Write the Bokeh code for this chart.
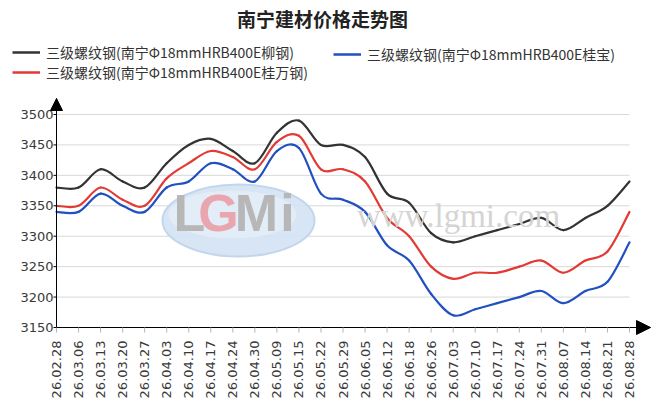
import numpy as np
from bokeh.plotting import figure
from bokeh.models import (Range1d, FixedTicker, Legend, LegendItem, Label,
                          Arrow, NormalHead, ColumnDataSource)
from bokeh.embed import file_html
from bokeh.resources import INLINE

dates = ["26.02.28", "26.03.06", "26.03.13", "26.03.20", "26.03.27", "26.04.03",
         "26.04.10", "26.04.17", "26.04.24", "26.04.30", "26.05.09", "26.05.15",
         "26.05.22", "26.05.29", "26.06.05", "26.06.12", "26.06.18", "26.06.26",
         "26.07.03", "26.07.10", "26.07.17", "26.07.24", "26.07.31", "26.08.07",
         "26.08.14", "26.08.21", "26.08.28"]
liugang = [3380, 3380, 3410, 3390, 3380, 3420, 3450, 3460, 3440, 3420, 3470, 3490,
           3450, 3450, 3430, 3370, 3355, 3305, 3290, 3300, 3310, 3320, 3330, 3310,
           3330, 3350, 3390]
guiwan = [3350, 3350, 3380, 3360, 3350, 3395, 3420, 3440, 3430, 3410, 3455, 3465,
          3410, 3410, 3390, 3330, 3300, 3250, 3230, 3240, 3240, 3250, 3260, 3240,
          3260, 3275, 3340]
guibao = [3340, 3340, 3370, 3350, 3340, 3380, 3390, 3420, 3410, 3390, 3440, 3445,
          3370, 3360, 3340, 3285, 3260, 3205, 3170, 3180, 3190, 3200, 3210, 3190,
          3210, 3225, 3290]
yticks = [3150, 3200, 3250, 3300, 3350, 3400, 3450, 3500]
title_text = "南宁建材价格走势图"
names = ["三级螺纹钢(南宁Φ18mmHRB400E柳钢)",
         "三级螺纹钢(南宁Φ18mmHRB400E桂宝)",
         "三级螺纹钢(南宁Φ18mmHRB400E桂万钢)"]
colors = ["#333333", "#2150bf", "#e23b36"]

n = len(dates)
W, H = 658, 410
# page-pixel layout of the plot area
PX0, PX_LAST = 56.0, 629.0          # first / last category tick
PY_BASE, PY_TOP = 327.0, 114.0      # y of first / last y tick
FRAME_L, FRAME_R = 0, 652
FRAME_T, FRAME_B = 0, 336
dx = (PX_LAST - PX0) / (n - 1)
dy = (PY_BASE - PY_TOP) / (yticks[-1] - yticks[0])


def data_x(px):
    return (px - PX0) / dx


def data_y(py):
    return yticks[0] + (PY_BASE - py) / dy


p = figure(width=W, height=H, output_backend="svg", toolbar_location=None,
           x_range=Range1d(data_x(FRAME_L), data_x(FRAME_R)),
           y_range=Range1d(data_y(FRAME_B), data_y(FRAME_T)),
           min_border_left=FRAME_L, min_border_right=W - FRAME_R,
           min_border_top=FRAME_T, min_border_bottom=H - FRAME_B)
p.title_location = None
p.outline_line_color = None
p.xgrid.visible = False
p.ygrid.visible = False

# grid lines
p.segment(x0=0, x1=n - 1, y0=yticks[1:], y1=yticks[1:], line_color="#d9d9d9",
          line_width=1)

# watermark
p.ellipse(x=[data_x(238)], y=[data_y(220)], width=[152], height=[72],
          width_units="screen", height_units="screen", fill_color="#d3e2f3",
          line_color="#c2d6ec", line_width=2, fill_alpha=0.9)
p.ellipse(x=[data_x(232)], y=[data_y(214)], width=[128], height=[48],
          width_units="screen", height_units="screen", fill_color="#e6eff9",
          line_color=None, fill_alpha=0.8)
for ch, px, col in [("L", 189, "#b4b4b4"), ("G", 218, "#e9a2aa"),
                    ("M", 256, "#b4b4b4"), ("i", 287, "#b4b4b4")]:
    p.add_layout(Label(x=data_x(px), y=data_y(241), text=ch,
                       text_font="Liberation Sans", text_font_style="bold",
                       text_font_size="52px", text_color=col, text_align="center",
                       text_alpha=0.95))
p.add_layout(Label(x=data_x(458), y=data_y(233), text="www.lgmi.com",
                   text_font="Liberation Serif", text_font_size="33px",
                   text_color="#d4d4d4", text_align="center"))


def bez(vals):
    y = np.array(vals, dtype=float)
    x = np.arange(len(y), dtype=float)
    m = len(y)
    xp = np.concatenate([[x[0]], x, [x[-1]]])
    yp = np.concatenate([[y[0]], y, [y[-1]]])
    return dict(
        x0=xp[1:m], y0=yp[1:m], x1=xp[2:m + 1], y1=yp[2:m + 1],
        cx0=xp[1:m] + (xp[2:m + 1] - xp[0:m - 1]) / 6,
        cy0=yp[1:m] + (yp[2:m + 1] - yp[0:m - 1]) / 6,
        cx1=xp[2:m + 1] - (xp[3:m + 2] - xp[1:m]) / 6,
        cy1=yp[2:m + 1] - (yp[3:m + 2] - yp[1:m]) / 6,
    )


leg_r = []
for vals, c in zip([liugang, guibao, guiwan], colors):
    src = ColumnDataSource(bez(vals))
    p.bezier(x0="x0", y0="y0", x1="x1", y1="y1", cx0="cx0", cy0="cy0",
             cx1="cx1", cy1="cy1", source=src, line_color=c, line_width=2.2,
             line_cap="round")
    # one-point line: draws nothing itself, gives the legend its line sample
    leg_r.append(p.line(x=[0], y=[vals[0]], line_color=c, line_width=2.5))

x_tip = data_x(650)
y_tip = data_y(98)

# axis lines and tick marks at the data origin
p.segment(x0=[0], y0=[yticks[0]], x1=[x_tip], y1=[yticks[0]], line_color="black",
          line_width=1)
p.segment(x0=[0], y0=[yticks[0]], x1=[0], y1=[y_tip], line_color="black",
          line_width=1)
p.segment(x0=list(range(n)), y0=[yticks[0]] * n, x1=list(range(n)),
          y1=[yticks[0] - 5 / dy] * n, line_color="#b5b5b5", line_width=1)
p.segment(x0=[-3 / dx] * len(yticks), y0=yticks, x1=[0] * len(yticks), y1=yticks,
          line_color="black", line_width=1)

# axes (labels)
p.xaxis.ticker = FixedTicker(ticks=list(range(n)))
p.xaxis.major_label_overrides = {i: d for i, d in enumerate(dates)}
p.xaxis.major_label_orientation = np.pi / 2
p.xaxis.major_label_text_font = "DejaVu Sans"
p.xaxis.major_label_text_font_size = "13px"
p.xaxis.major_label_text_color = "#3a3a3a"
p.xaxis.major_tick_in = 0
p.xaxis.major_tick_out = 0
p.xaxis.major_tick_line_color = None
p.xaxis.minor_tick_line_color = None
p.xaxis.major_label_standoff = 4
p.xaxis.axis_line_color = None

p.yaxis.ticker = FixedTicker(ticks=yticks)
p.yaxis.major_label_text_font = "DejaVu Sans"
p.yaxis.major_label_text_font_size = "13px"
p.yaxis.major_label_text_color = "#3a3a3a"
p.yaxis.major_tick_in = 0
p.yaxis.major_tick_out = 0
p.yaxis.major_tick_line_color = None
p.yaxis.minor_tick_line_color = None
p.yaxis.major_label_standoff = -53
p.yaxis.axis_line_color = None

# axis arrows
p.add_layout(Arrow(end=NormalHead(size=14, fill_color="black", line_color="black"),
                   x_start=n - 1, y_start=yticks[0], x_end=x_tip, y_end=yticks[0],
                   line_alpha=0))
p.add_layout(Arrow(end=NormalHead(size=12, fill_color="black", line_color="black"),
                   x_start=0, y_start=yticks[-1], x_end=0, y_end=y_tip,
                   line_alpha=0))

# title
p.add_layout(Label(x=data_x(322), y=data_y(18), text=title_text,
                   text_font="Noto Sans CJK SC", text_font_style="bold",
                   text_font_size="19px", text_color="#222222",
                   text_align="center", text_baseline="middle"))


def mk_legend(items, x, y):
    return Legend(items=items, location=(x, y), orientation="vertical",
                  margin=0, padding=0, spacing=0, border_line_color=None,
                  background_fill_alpha=0, glyph_width=28, glyph_height=18,
                  label_height=18, label_standoff=6,
                  label_text_font="Noto Sans CJK SC", label_text_font_size="14px",
                  label_text_color="#333333")


p.add_layout(mk_legend([LegendItem(label=names[0], renderers=[leg_r[0]]),
                        LegendItem(label=names[2], renderers=[leg_r[2]])],
                       12 - FRAME_L, FRAME_B - 82))
p.add_layout(mk_legend([LegendItem(label=names[1], renderers=[leg_r[1]])],
                       333 - FRAME_L, FRAME_B - 64))

open("out.html", "w").write(file_html(p, INLINE))
